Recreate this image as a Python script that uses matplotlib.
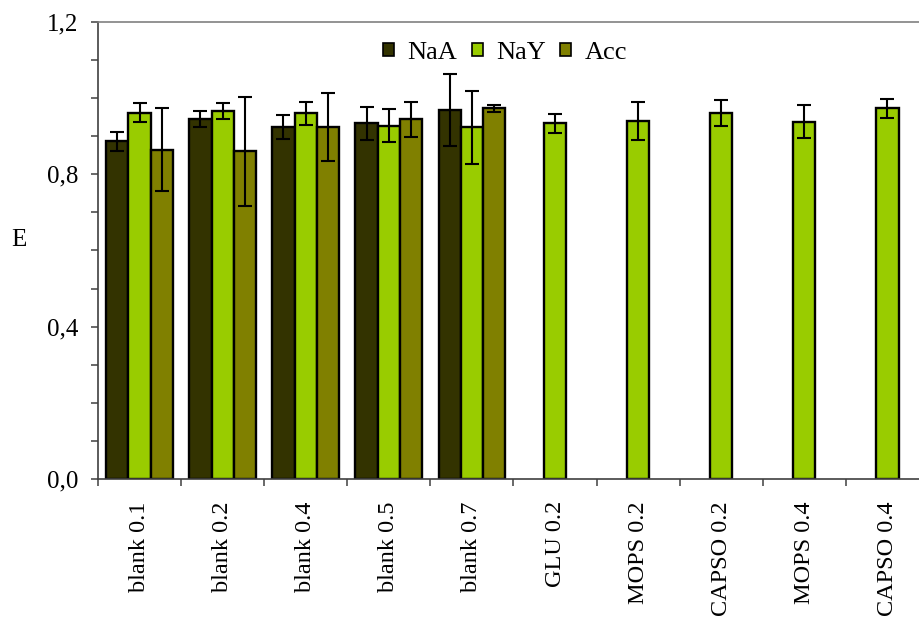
import numpy as np
import matplotlib
matplotlib.use("Agg")
import matplotlib.pyplot as plt
from matplotlib.ticker import MultipleLocator, FixedLocator, FuncFormatter

plt.rcParams['font.family'] = ['Liberation Serif', 'DejaVu Serif']

categories = ['blank 0.1', 'blank 0.2', 'blank 0.4', 'blank 0.5', 'blank 0.7',
              'GLU 0.2', 'MOPS 0.2', 'CAPSO 0.2', 'MOPS 0.4', 'CAPSO 0.4']
series_names = ['NaA', 'NaY', 'Acc']

# NaA and Acc were measured only for the blank samples
naa = [0.887, 0.945, 0.924, 0.934, 0.969]
naa_err = [0.025, 0.021, 0.031, 0.043, 0.095]
nay = [0.962, 0.966, 0.960, 0.928, 0.923, 0.934, 0.939, 0.961, 0.938, 0.973]
nay_err = [0.025, 0.022, 0.030, 0.043, 0.096, 0.025, 0.050, 0.034, 0.043, 0.025]
acc = [0.865, 0.861, 0.925, 0.944, 0.973]
acc_err = [0.110, 0.143, 0.089, 0.046, 0.009]

colors = {'NaA': '#333300', 'NaY': '#99CC00', 'Acc': '#808000'}

W, H = 920, 618
fig = plt.figure(figsize=(W / 100, H / 100), dpi=100)
ax = fig.add_axes([98 / W, 1 - 479 / H, (929 - 98) / W, (479 - 22) / H])

width = 0.268
x = np.arange(len(categories))
err_kw = dict(ecolor='black', elinewidth=1.5, capsize=4.7, capthick=1.5)
bar_kw = dict(edgecolor='black', linewidth=1.7)

ax.bar(x[:len(naa)] - width, naa, width, yerr=naa_err, color=colors['NaA'],
       label='NaA', error_kw=err_kw, **bar_kw)
ax.bar(x, nay, width, yerr=nay_err, color=colors['NaY'],
       label='NaY', error_kw=err_kw, **bar_kw)
ax.bar(x[:len(acc)] + width, acc, width, yerr=acc_err, color=colors['Acc'],
       label='Acc', error_kw=err_kw, **bar_kw)

ax.set_xlim(-0.5, len(categories) - 0.5)
ax.set_ylim(0, 1.2)

# y axis: ticks every 0.1, labels every 0.4 with decimal comma
ax.yaxis.set_major_locator(MultipleLocator(0.4))
ax.yaxis.set_minor_locator(MultipleLocator(0.1))
ax.yaxis.set_major_formatter(FuncFormatter(lambda v, p: f"{v:.1f}".replace('.', ',')))
ax.tick_params(axis='y', which='both', direction='out', length=5, width=1.1,
               color='#404040', labelsize=18, pad=9)

# x axis: labels at category centres, tick marks between categories
ax.set_xticks(x)
ax.set_xticklabels(categories, rotation=90, va='top', ha='center')
ax.xaxis.set_minor_locator(FixedLocator(np.arange(-0.5, len(categories) + 0.5, 1.0)))
ax.tick_params(axis='x', which='major', length=0, labelsize=17.5, pad=16)
ax.tick_params(axis='x', which='minor', direction='out', length=5, width=1.1,
               color='#404040')

ax.set_ylabel('E', rotation=0, fontsize=18, labelpad=0)
ax.yaxis.set_label_coords(-0.095, 0.5)

for side in ['left', 'bottom']:
    ax.spines[side].set_color('#404040')
    ax.spines[side].set_linewidth(1.2)
ax.spines['top'].set_color('#808080')
ax.spines['top'].set_linewidth(1.2)
ax.spines['right'].set_visible(False)

leg = ax.legend(loc='center', bbox_to_anchor=(505 / W, 1 - 53 / H),
                bbox_transform=fig.transFigure, ncol=3, frameon=False,
                fontsize=19, handlelength=0.42, handleheight=0.42,
                handletextpad=0.5, columnspacing=0.55)
for h in leg.legend_handles:
    h.set_linewidth(1.2)

fig.savefig('out.png', dpi=100)
